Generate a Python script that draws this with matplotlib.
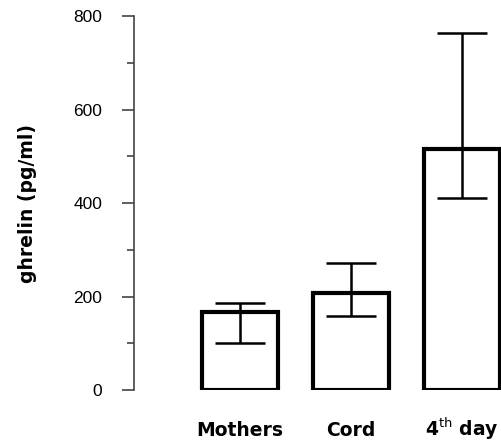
import matplotlib
matplotlib.use("Agg")
import matplotlib.pyplot as plt
from matplotlib.ticker import MultipleLocator

categories = ["Mothers", "Cord", "4$^{\\rm th}$ day"]
means = [167, 207, 515]
err_upper = [186, 272, 763]
err_lower = [100, 158, 411]
yticks = [0, 200, 400, 600, 800]

W, H = 502, 444
fig = plt.figure(figsize=(W / 100, H / 100), dpi=100)
ax = fig.add_axes([134 / W, 54 / H, (W - 134) / W, (390 - 16) / H])

x = list(range(len(categories)))
ax.bar(x, means, width=0.68, facecolor="white", edgecolor="black",
       linewidth=3.0, zorder=2)
yerr = [[m - lo for m, lo in zip(means, err_lower)],
        [hi - m for m, hi in zip(means, err_upper)]]
ax.errorbar(x, means, yerr=yerr, fmt="none", ecolor="black",
            elinewidth=1.8, capsize=18, capthick=1.8, zorder=3)

ax.set_ylim(0, 800)
ax.set_xlim(-0.955, 2.36)
ax.set_yticks(yticks)
ax.yaxis.set_minor_locator(MultipleLocator(100))
ax.tick_params(axis="y", which="major", length=9, width=1.2, color="#444444",
               labelsize=12.5, pad=14)
ax.tick_params(axis="y", which="minor", length=5, width=1.2, color="#444444")
for lab in ax.get_yticklabels():
    lab.set_fontfamily("Liberation Sans")

for side in ("top", "right", "bottom"):
    ax.spines[side].set_visible(False)
ax.spines["left"].set_color("#444444")
ax.spines["left"].set_linewidth(1.2)

ax.set_xticks(x)
ax.set_xticklabels(categories, fontsize=13.5, fontweight="bold")
ax.tick_params(axis="x", length=0, pad=33)
for lab in ax.get_xticklabels():
    lab.set_verticalalignment("baseline")

ax.set_ylabel("ghrelin (pg/ml)", fontsize=13.5, fontweight="bold", labelpad=26)

fig.savefig("out.png", dpi=100)
